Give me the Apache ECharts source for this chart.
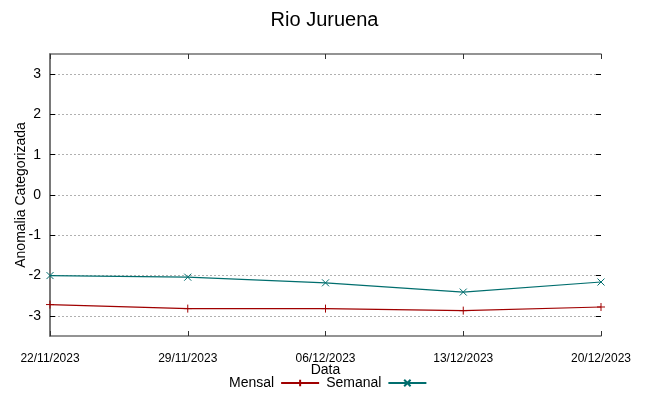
<!DOCTYPE html>
<html>
<head>
<meta charset="utf-8">
<script src="https://cdn.jsdelivr.net/npm/echarts@6/dist/echarts.min.js"></script>
<style>html,body{margin:0;padding:0;background:#fff;}#c{width:649px;height:396px;}</style>
</head>
<body>
<div id="c"></div>
<script>
// Data
var dayOffsets = [0, 7, 14, 21, 28];
var tickLabels = ['22/11/2023', '29/11/2023', '06/12/2023', '13/12/2023', '20/12/2023'];
var mensal = [-2.72, -2.82, -2.82, -2.87, -2.78];
var semanal = [-2.00, -2.04, -2.18, -2.41, -2.16];
var yMinTick = -3, yMaxTick = 3, yPad = 0.5;

var FONT = 'Liberation Sans';
var plusPath = 'path://M5,0 L5,10 M0,5 L10,5';
var crossPath = 'path://M0,0 L10,10 M0,10 L10,0';

function pairs(xs, ys) { return xs.map(function (x, i) { return [x, ys[i]]; }); }

var W = 649, H = 396;
var G = { left: 50, right: 48, top: 54, bottom: 60 };
var unitPx = (H - G.top - G.bottom) / (yMaxTick - yMinTick + 2 * yPad);
var inset = unitPx * yPad;

var chart = echarts.init(document.getElementById('c'), null, { renderer: 'canvas' });
var axisLineStyle = { color: '#707070', width: 1.5 };
function xAxisBase(gi) {
  return {
    gridIndex: gi, type: 'value', min: 0, max: 28, interval: 7,
    splitLine: { show: false },
    axisLine: { show: true, onZero: false, lineStyle: axisLineStyle },
    axisTick: { show: true, inside: true, length: 5, lineStyle: { color: '#333' } }
  };
}
function tickAxis(pos) {
  return {
    gridIndex: 1, position: pos, type: 'value', min: yMinTick, max: yMaxTick, interval: 1,
    axisLine: { show: false },
    axisTick: { show: true, inside: true, length: 5, lineStyle: { color: '#000', width: 1 } },
    splitLine: { show: pos === 'left', lineStyle: { color: '#b0b0b0', type: [2, 2], width: 1 } },
    axisLabel: pos === 'left'
      ? { margin: 9, fontFamily: FONT, fontSize: 14, color: '#000' }
      : { show: false }
  };
}
chart.setOption({
  animation: false,
  backgroundColor: '#fff',
  title: {
    text: 'Rio Juruena', left: 'center', top: 5,
    textStyle: { fontFamily: FONT, fontSize: 20, fontWeight: 'normal', color: '#000' }
  },
  legend: {
    bottom: 1, left: 224, align: 'right', itemGap: 6,
    itemWidth: 38, itemHeight: 8,
    textStyle: { fontFamily: FONT, fontSize: 14, color: '#000', padding: [0, 2, 0, 0] },
    data: ['Mensal', 'Semanal']
  },
  grid: [
    { left: G.left, right: G.right, top: G.top, bottom: G.bottom, containLabel: false, outerBoundsMode: 'none' },
    { left: G.left, right: G.right, top: G.top + inset, bottom: G.bottom + inset, containLabel: false, outerBoundsMode: 'none' }
  ],
  xAxis: [
    Object.assign(xAxisBase(0), {
      position: 'bottom',
      name: 'Data', nameLocation: 'middle', nameGap: 27, nameMoveOverlap: false,
      nameTextStyle: { fontFamily: FONT, fontSize: 14, color: '#000' },
      axisLabel: {
        margin: 17, fontFamily: FONT, fontSize: 12, color: '#000',
        formatter: function (v) { var i = dayOffsets.indexOf(v); return i >= 0 ? tickLabels[i] : ''; }
      }
    }),
    Object.assign(xAxisBase(0), { position: 'top', axisLabel: { show: false } }),
    { gridIndex: 1, type: 'value', min: 0, max: 28, show: false }
  ],
  yAxis: [
    {
      gridIndex: 0, position: 'left', type: 'value', min: yMinTick - yPad, max: yMaxTick + yPad,
      axisLine: { show: true, lineStyle: axisLineStyle }, axisTick: { show: false },
      axisLabel: { show: false }, splitLine: { show: false },
      name: 'Anomalia Categorizada', nameLocation: 'middle', nameGap: 22, nameMoveOverlap: false,
      nameTextStyle: { fontFamily: FONT, fontSize: 14, color: '#000' }
    },
    {
      gridIndex: 0, position: 'right', type: 'value', min: yMinTick - yPad, max: yMaxTick + yPad,
      axisLine: { show: true, lineStyle: axisLineStyle }, axisTick: { show: false },
      axisLabel: { show: false }, splitLine: { show: false }
    },
    tickAxis('left'),
    tickAxis('right')
  ],
  series: [
    {
      name: 'Mensal', type: 'line', xAxisIndex: 0, yAxisIndex: 0, data: pairs(dayOffsets, mensal),
      symbol: plusPath, symbolSize: 8, showAllSymbol: true,
      lineStyle: { color: '#a00000', width: 1.2 },
      itemStyle: { color: 'rgba(0,0,0,0)', borderColor: '#a00000', borderWidth: 1 },
      z: 3
    },
    {
      name: 'Semanal', type: 'line', xAxisIndex: 0, yAxisIndex: 0, data: pairs(dayOffsets, semanal),
      symbol: crossPath, symbolSize: 7, showAllSymbol: true,
      lineStyle: { color: '#006e6e', width: 1.2 },
      itemStyle: { color: 'rgba(0,0,0,0)', borderColor: '#006e6e', borderWidth: 1 },
      z: 4
    }
  ]
});
</script>
</body>
</html>
